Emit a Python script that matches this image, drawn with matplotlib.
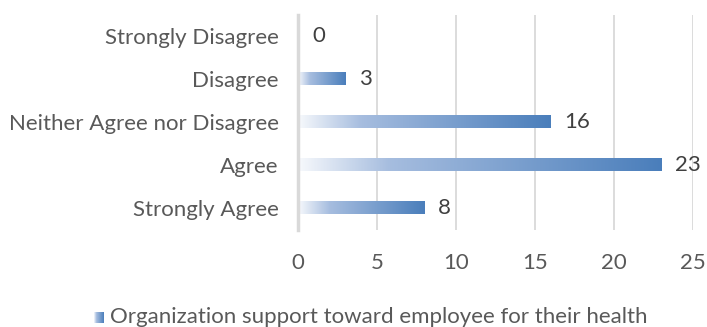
import matplotlib.pyplot as plt
import numpy as np
from matplotlib.colors import LinearSegmentedColormap

categories = ["Strongly Disagree", "Disagree", "Neither Agree nor Disagree", "Agree", "Strongly Agree"]
values = [0, 3, 16, 23, 8]
series_name = "Organization support toward employee for their health"

text_color = "#595959"
grid_color = "#d9d9d9"

# white-to-blue fade used on every bar
fade = LinearSegmentedColormap.from_list(
    "fade", [(0.0, "#f7f9fc"), (0.25, "#a6bddf"), (1.0, "#4a7ebb")]
)
ramp = np.linspace(0, 1, 256).reshape(1, -1)

plt.rcParams["font.family"] = ["Lato", "DejaVu Sans"]
fs = 16

fig = plt.figure(figsize=(7.07, 3.27), dpi=100)
ax = fig.add_axes([0.4215, 0.298, 0.5587, 0.6575])

y = np.arange(len(categories))
bar_h = 0.28
bars = ax.barh(y, values, height=bar_h, color="none", zorder=2)
for b, v in zip(bars, values):
    if v > 0:
        y0 = b.get_y()
        ax.imshow(ramp, cmap=fade, aspect="auto", zorder=3,
                  extent=(0, v, y0 + bar_h, y0), interpolation="bilinear")
    ax.annotate(str(v), (v, b.get_y() + bar_h / 2), xytext=(10, 0),
                textcoords="offset points", va="center", ha="left",
                fontsize=fs, color="#404040")

ax.set_xlim(0, 25)
ax.set_ylim(len(categories) - 0.5, -0.5)
ax.set_xticks([0, 5, 10, 15, 20, 25])
ax.set_yticks(y)
ax.set_yticklabels(categories)
ax.tick_params(axis="both", length=0, labelsize=fs, labelcolor=text_color)
ax.tick_params(axis="y", pad=14)
ax.tick_params(axis="x", pad=17)
ax.xaxis.grid(True, color=grid_color, linewidth=1.3, zorder=0)
ax.set_axisbelow(True)
for s in ["top", "right", "bottom"]:
    ax.spines[s].set_visible(False)
ax.spines["left"].set_color(grid_color)
ax.spines["left"].set_linewidth(2.5)
ax.spines["left"].set_zorder(4)

# legend: small gradient square and the series name
lax = fig.add_axes([94 / 707, 1 - 323 / 327, 10 / 707, 11 / 327])
lax.imshow(ramp, cmap=fade, aspect="auto", extent=(0, 1, 0, 1))
lax.set_axis_off()
fig.text(110 / 707, 1 - 317 / 327, series_name, ha="left", va="center",
         fontsize=fs, color=text_color)

fig.savefig("out.png", dpi=100)
